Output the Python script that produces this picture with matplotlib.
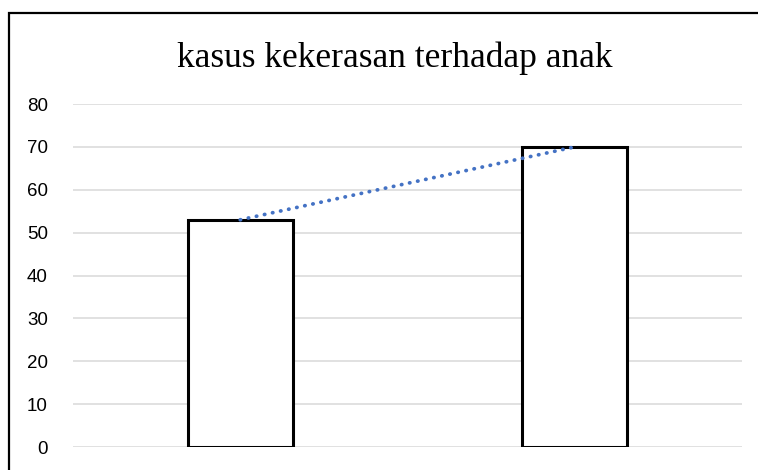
import matplotlib.pyplot as plt
from matplotlib.patches import Rectangle
import numpy as np


title = 'kasus kekerasan terhadap anak'
categories = ['1', '2']
values = [53, 70]
y_ticks = [0, 10, 20, 30, 40, 50, 60, 70, 80]

fig = plt.figure(figsize=(7.58, 4.70), dpi=100)
ax = fig.add_axes([0.0963, 0.0489, 0.8826, 0.7298])

x = np.arange(len(categories))
ax.bar(x, values, width=0.314, color='white', edgecolor='black', linewidth=2.2, zorder=3)
# trend line through tops of the bars (round dots)
ax.plot(x, values, color='#4472C4', linestyle=(0, (0.1, 2.1)), linewidth=2.7,
        dash_capstyle='round', zorder=4)

ax.set_xlim(-0.5, 1.5)
ax.set_ylim(0, 80)
ax.set_yticks(y_ticks)
ax.set_xticks([])
ax.yaxis.grid(True, color='#d9d9d9', linewidth=1.1, zorder=0)
ax.set_axisbelow(True)
for s in ax.spines.values():
    s.set_visible(False)
ax.tick_params(axis='y', length=0, pad=18, labelsize=13.5)
for lab in ax.get_yticklabels():
    lab.set_fontfamily('Liberation Sans')

fig.text(0.521, 0.876, title, ha='center', va='center',
         fontsize=25.5, family='Liberation Serif')

# outer frame of the chart
fig.patches.append(Rectangle((9/758, -0.1), 2.0, 1.1 - 13/470,
                             transform=fig.transFigure, fill=False,
                             edgecolor='black', linewidth=1.6))

fig.savefig('out.png', dpi=100)
